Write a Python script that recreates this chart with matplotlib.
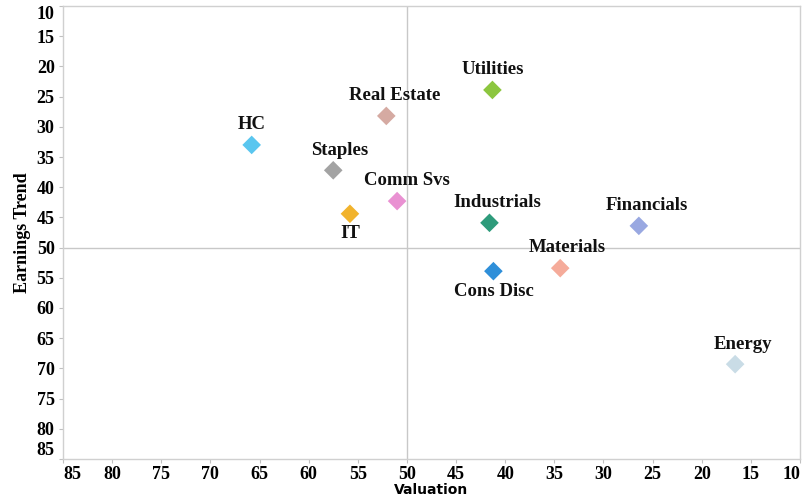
import matplotlib
matplotlib.use("Agg")
import matplotlib.pyplot as plt

sectors = ["Utilities", "Real Estate", "HC", "Staples", "Comm Svs", "IT",
           "Industrials", "Financials", "Materials", "Cons Disc", "Energy"]
valuation = [41.3, 52.1, 65.8, 57.5, 51.0, 55.8, 41.6, 26.4, 34.4, 41.2, 16.6]
earnings = [23.9, 28.2, 33.0, 37.2, 42.3, 44.4, 45.9, 46.4, 53.4, 53.9, 69.3]
colors = ["#8cc63f", "#d5aaa2", "#5ac6ef", "#a3a3a3", "#e991d2", "#f1b32d",
          "#2e9b7b", "#99a8e1", "#f5ab9a", "#2f8fd9", "#c9dce6"]
# label placement: True = above the marker, False = below
label_above = [True, True, True, True, True, False,
               True, True, True, False, True]
label_dx = [0, 8, 0, 6, 10, 0, 8, 8, 7, 0, 8]

ticks = list(range(85, 9, -5))

fig = plt.figure(figsize=(8.02, 4.98), dpi=100)
ax = fig.add_axes([63 / 802, 1 - 459 / 498, 737 / 802, 453 / 498])

ax.axvline(50, color="#c8c8c8", lw=1, zorder=1)
ax.axhline(50, color="#c8c8c8", lw=1, zorder=1)

ax.scatter(valuation, earnings, c=colors, marker="D", s=90, zorder=3,
           linewidths=0)

font = {"family": "Liberation Serif", "weight": "bold"}
for name, x, y, up, dx in zip(sectors, valuation, earnings, label_above, label_dx):
    ax.annotate(name, (x, y), xytext=(dx * 0.72, 14.5 if up else -14.5),
                textcoords="offset points", ha="center",
                va="center", fontsize=13.5, color="#111111", **font)

ax.set_xlim(85, 10)
ax.set_ylim(85, 10)
ax.set_xticks(ticks)
ax.set_yticks(ticks)
ax.set_xticklabels([str(t) for t in ticks], fontsize=13, **font)
ax.set_yticklabels([str(t) for t in ticks], fontsize=13, **font)

xl = ax.get_xticklabels()
xl[0].set_ha("left")
xl[-1].set_ha("right")
yl = ax.get_yticklabels()
yl[0].set_va("bottom")
yl[-1].set_va("top")

ax.tick_params(length=3, color="#c0c0c0", width=0.8)
ax.tick_params(axis="x", pad=2)
ax.tick_params(axis="y", pad=3)
for sp in ax.spines.values():
    sp.set_color("#d0d0d0")
    sp.set_linewidth(1)

ax.set_xlabel("Valuation", fontsize=10, labelpad=0,
              family="Liberation Sans Narrow", weight="bold")
ax.set_ylabel("Earnings Trend", fontsize=13, labelpad=4, **font)

fig.savefig("out.png", dpi=100)
